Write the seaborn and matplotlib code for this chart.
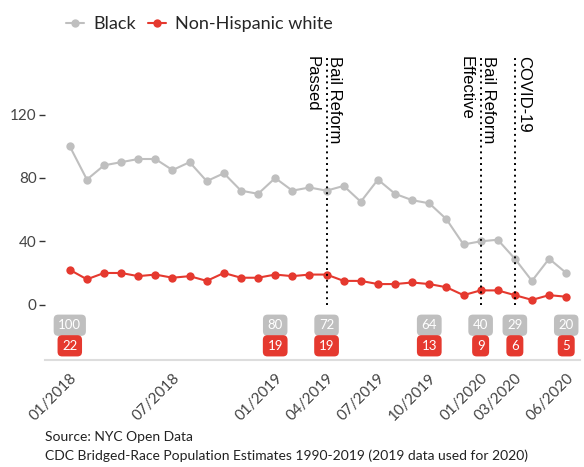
import matplotlib.pyplot as plt
import seaborn as sns
import numpy as np
import pandas as pd

months = pd.date_range('2018-01-01', '2020-06-01', freq='MS').strftime('%m/%Y').tolist()
black = [100, 79, 88, 90, 92, 92, 85, 90, 78, 83, 72, 70, 80, 72, 74,
         72, 75, 65, 79, 70, 66, 64, 54, 38, 40, 41, 29, 15, 29, 20]
white = [22, 16, 20, 20, 18, 19, 17, 18, 15, 20, 17, 17, 19, 18, 19,
         19, 15, 15, 13, 13, 14, 13, 11, 6, 9, 9, 6, 3, 6, 5]
tick_months = ['01/2018', '07/2018', '01/2019', '04/2019', '07/2019',
               '10/2019', '01/2020', '03/2020', '06/2020']
label_months = ['01/2018', '01/2019', '04/2019', '10/2019', '01/2020', '03/2020', '06/2020']
events = [('04/2019', 'Bail Reform\nPassed'),
          ('01/2020', 'Bail Reform\nEffective'),
          ('03/2020', 'COVID-19')]

GRAY = '#bfbfbf'
RED = '#e5392f'

sns.set_style('white')
plt.rcParams['font.family'] = ['Lato', 'DejaVu Sans']

idx = np.arange(len(months))
df = pd.DataFrame({
    'x': np.concatenate([idx, idx]),
    'rate': black + white,
    'group': ['Black'] * len(months) + ['Non-Hispanic white'] * len(months),
})

fig = plt.figure(figsize=(5.84, 4.67), dpi=100)
ax = fig.add_axes([0.077, 0.229, 0.916, 0.678])
sns.lineplot(data=df, x='x', y='rate', hue='group', palette=[GRAY, RED],
             marker='o', markersize=6, markeredgewidth=0, linewidth=1.5, ax=ax)

handles, labels = ax.get_legend_handles_labels()
ax.legend_.remove()
fig.legend(handles, labels, loc='upper left', bbox_to_anchor=(0.085, 1.0),
           ncol=2, frameon=False, fontsize=13, handlelength=1.0,
           handletextpad=0.5, columnspacing=0.7)

# event lines, one text line at a time (first line right of the rule)
for m, txt in events:
    i = months.index(m)
    ax.plot([i, i], [0, 157], ls=(0, (1, 2)), color='black', lw=1.4)
    for k, line in enumerate(txt.split('\n')):
        ax.text(i + 0.22 - k * 1.33, 157, line, rotation=-90, rotation_mode='anchor',
                ha='left', va='baseline', fontsize=12, family='Liberation Sans',
                color='black')

# value boxes
for m in label_months:
    i = months.index(m)
    ax.text(i, -13, str(black[i]), ha='center', va='center', color='white', fontsize=9.5,
            bbox=dict(boxstyle='round,pad=0.35', fc=GRAY, ec='none'))
    ax.text(i, -26, str(white[i]), ha='center', va='center', color='white', fontsize=9.5,
            bbox=dict(boxstyle='round,pad=0.35', fc=RED, ec='none'))

ax.set_xlim(-1.45, 29.8)
ax.set_ylim(-35, 165)
ax.set_yticks([0, 40, 80, 120])
ax.set_xticks([months.index(m) for m in tick_months])
ax.set_xticklabels(tick_months, rotation=45, ha='right', rotation_mode='anchor')
ax.tick_params(axis='both', labelsize=11, colors='#333333')
ax.tick_params(axis='x', length=4, width=1, pad=4)
ax.tick_params(axis='y', length=4, width=1, pad=2, left=True)
for t in ax.get_xticklabels() + ax.get_yticklabels():
    t.set_color('#444444')
ax.set_xlabel('')
ax.set_ylabel('')
for s in ['left', 'right', 'top']:
    ax.spines[s].set_visible(False)
ax.spines['bottom'].set_color('#dddddd')
ax.spines['bottom'].set_linewidth(1.5)

fig.text(0.077, 0.064, 'Source: NYC Open Data', fontsize=10, va='center', color='#222222')
fig.text(0.077, 0.024, 'CDC Bridged-Race Population Estimates 1990-2019 (2019 data used for 2020)',
         fontsize=10, va='center', color='#222222')

fig.savefig('out.png', dpi=100)
